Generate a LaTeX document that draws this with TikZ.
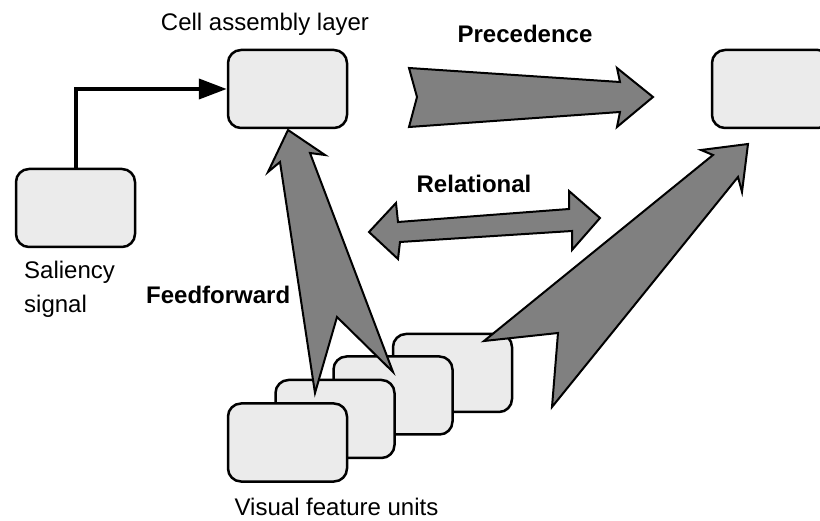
\documentclass[tikz,border=0pt]{standalone}
\usepackage{fontspec}
\setmainfont{Liberation Sans}
\usetikzlibrary{arrows.meta}
\definecolor{boxfill}{HTML}{EBEBEB}
\definecolor{blockfill}{HTML}{808080}
\begin{document}
\begin{tikzpicture}[x=1pt,y=-1pt,
  unitbox/.style={draw=black,line width=2.5pt,fill=boxfill,rounded corners=13pt,
    minimum width=119pt,minimum height=78pt,inner sep=0pt},
  blockarrow/.style={draw=black,line width=2pt,fill=blockfill,line join=miter,miter limit=20},
  lbl/.style={font=\fontsize{24}{34}\selectfont,inner sep=0pt},
  blbl/.style={font=\fontsize{24}{34}\selectfont\bfseries,inner sep=0pt}]
\useasboundingbox (0,0) rectangle (820,521);

% cell assembly units and the saliency unit
\node[unitbox] (cell) at (287.5,89) {};
\node[unitbox] (next) at (771.5,89) {};
\node[unitbox] (sal) at (75.5,208) {};

% stack of visual feature units, back to front
\node[unitbox] (v4) at (452.5,373) {};
\node[unitbox] (v3) at (393,395.5) {};
\node[unitbox] (v2) at (335,419) {};
\node[unitbox] (v1) at (287.5,442.5) {};

% saliency signal into the cell assembly layer
\draw[line width=4pt,-{Triangle[length=28pt,width=20pt]}]
  (sal.north) |- (cell.west);

% feedforward block arrow
\draw[blockarrow] (288,130) -- (325,155) -- (310,153) -- (393,372) -- (337,317)
  -- (315,393) -- (280,162) -- (268,172) -- cycle;

% precedence block arrow
\draw[blockarrow] (653,97) -- (617,127) -- (620,112) -- (409,127) -- (417,97)
  -- (409,68) -- (620,82) -- (617,68) -- cycle;

% relational double block arrow
\draw[blockarrow] (600,218) -- (572,250) -- (572,231) -- (400,242) -- (398,259)
  -- (369,232) -- (396,203) -- (398,222) -- (569,209) -- (569,191) -- cycle;

% feedforward from the feature units to the next assembly
\draw[blockarrow] (748,144) -- (742,192) -- (738,177) -- (552,407) -- (558,333)
  -- (484,341) -- (713,155) -- (701,150) -- cycle;

% labels
\node[lbl,anchor=base] (tcell) at (265,31) {Cell assembly layer};
\node[blbl,anchor=base] (tprec) at (525,43) {Precedence};
\node[blbl,anchor=base] (trel) at (474,193) {Relational};
\node[blbl,anchor=base west] (tff) at (146,304) {Feedforward};
\node[lbl,anchor=base west] (tsal1) at (24,279) {Saliency};
\node[lbl,anchor=base west] (tsal2) at (24,313) {signal};
\node[lbl,anchor=base] (tvis) at (336.5,515) {Visual feature units};
\end{tikzpicture}
\end{document}
